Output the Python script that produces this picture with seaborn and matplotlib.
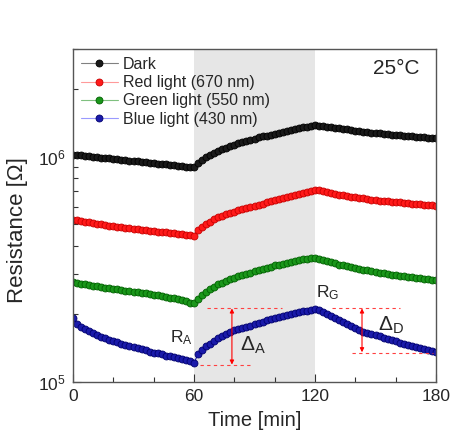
import numpy as np
import pandas as pd
import seaborn as sns
import matplotlib
matplotlib.use('Agg')
import matplotlib.pyplot as plt
from matplotlib.ticker import LogLocator, NullFormatter

# tempo (min), um ponto a cada 2 min
tempo = np.arange(0, 181, 2)

# resistencia em kOhm
escuro = [1020, 1015, 1011, 1007, 1002, 998, 994, 990, 985, 981,
          977, 973, 968, 964, 960, 956, 951, 947, 943, 939,
          935, 931, 927, 923, 919, 914, 910, 906, 902, 899,
          901,
          940, 970, 1000, 1020, 1040, 1058, 1076, 1094, 1111, 1128,
          1144, 1159, 1173, 1187, 1201, 1215, 1228, 1240, 1252, 1264,
          1276, 1288, 1300, 1312, 1324, 1336, 1347, 1358, 1367, 1375,
          1372, 1366, 1359, 1351, 1343, 1335, 1327, 1319, 1311, 1304,
          1297, 1290, 1284, 1278, 1272, 1266, 1261, 1256, 1251, 1247,
          1242, 1238, 1233, 1229, 1225, 1221, 1217, 1213, 1209, 1206]

vermelho = [525, 521, 517, 513, 510, 506, 503, 500, 497, 494,
            491, 488, 486, 483, 481, 479, 476, 474, 472, 469,
            467, 465, 463, 461, 458, 456, 454, 452, 449, 447,
            446,
            474, 489, 502, 514, 526, 537, 547, 555, 563, 570,
            577, 584, 591, 597, 604, 611, 618, 626, 634, 641,
            648, 656, 663, 671, 678, 685, 692, 699, 706, 712,
            708, 700, 693, 687, 682, 677, 672, 668, 664, 660,
            656, 652, 648, 644, 640, 637, 635, 632, 630, 628,
            626, 623, 621, 619, 617, 614, 612, 610, 607, 605]

verde = [277, 275, 273, 271, 269, 267.5, 266, 264, 262.5, 261,
         259, 257.5, 256, 254.5, 253, 251.5, 250, 248.5, 247, 245.5,
         244, 242, 240.5, 239, 237, 235, 233, 230.5, 228, 225,
         224,
         234, 243, 251, 258, 265, 271, 276, 281, 286, 290,
         294, 298, 302, 306, 310, 314, 318, 322, 325, 329,
         332, 335, 338, 341, 344, 347, 350, 352, 354, 356,
         353, 348, 343, 339, 336, 332, 329, 326, 323, 320,
         317.5, 315, 312.5, 310, 307.5, 305.5, 303.5, 301.5, 299.5, 297.5,
         296, 294.5, 293, 291.5, 290, 288.5, 287, 285.5, 284, 282.5]

azul = [192, 181, 176, 172, 168, 165, 162, 159, 157, 154,
        152, 150, 148, 146, 144, 143, 141, 139.5, 138, 136.5,
        135, 134, 132.5, 131, 130, 128.5, 127.5, 126, 125, 123.5,
        121.5,
        133, 139, 144, 148, 152, 156, 160, 164, 167, 170,
        172, 174, 176, 178, 180.5, 183, 185, 187.5, 190, 192,
        194.5, 196.5, 198.5, 200.5, 202.5, 204.5, 206, 207.5, 209, 210.5,
        209, 205, 200, 196, 192, 188, 184, 180, 176.5, 173,
        170, 167.5, 165.5, 163.5, 161.5, 159.5, 157.5, 155.5, 153.5, 151.5,
        149.5, 148, 146, 144.5, 143, 141.5, 140, 138.5, 137.5, 136.5]

rotulos = ['Dark', 'Red light (670 nm)', 'Green light (550 nm)', 'Blue light (430 nm)']
series = [escuro, vermelho, verde, azul]
cores = ['#1a1a1a', '#ff1a1a', '#1a961a', '#1a1aaa']
bordas = ['#000000', '#c80000', '#006000', '#00006e']
cores_claras = ['#808080', '#ff9a9a', '#7fc07f', '#9a9aff']

sns.set_theme(style='ticks')
plt.rcParams['font.family'] = ['Liberation Sans', 'DejaVu Sans']
plt.rcParams['mathtext.default'] = 'regular'

fig = plt.figure(figsize=(4.54, 4.34), dpi=100)
ax = fig.add_axes([0.1608, 0.1198, 0.7996, 0.7673])

# faixa iluminada
ax.axvspan(60, 120, color='#e6e6e6', zorder=0, lw=0)

for vals, cor, borda, rot in zip(series, cores, bordas, rotulos):
    df = pd.DataFrame({'tempo': tempo, 'R': np.array(vals) * 1e3})
    sns.lineplot(data=df, x='tempo', y='R', ax=ax, color=cor, marker='o',
                 markersize=5, markeredgecolor=borda, markeredgewidth=0.6,
                 linewidth=0.8, label=rot)

ax.set_yscale('log')
ax.set_xlim(0, 180)
ax.set_ylim(1e5, 3e6)
ax.set_xticks([0, 60, 120, 180])
ax.set_xticks([20, 40, 80, 100, 140, 160], minor=True)
ax.yaxis.set_major_locator(LogLocator(base=10))
ax.yaxis.set_minor_locator(LogLocator(base=10, subs=np.arange(2, 10)))
ax.yaxis.set_minor_formatter(NullFormatter())
ax.tick_params(which='both', direction='in', top=False, right=False,
               labelsize=12.5, color='#333333', pad=5)
ax.tick_params(which='major', length=6, width=0.8)
ax.tick_params(which='minor', length=3.5, width=0.8)
for s in ax.spines.values():
    s.set_color('#555555')
    s.set_linewidth(1.0)

ax.set_xlabel('Time [min]', fontsize=14.5, labelpad=5)
ax.set_ylabel('Resistance [\u03a9]', fontsize=16)
ax.yaxis.set_label_coords(-0.125, 0.455)

# legenda
leg = ax.legend(loc='upper left', frameon=False, fontsize=11.5,
                handlelength=2.3, handletextpad=0.3, labelspacing=0.2,
                borderaxespad=0.1, bbox_to_anchor=(0.0, 1.0))
for h, cc, cor, borda in zip(leg.legend_handles, cores_claras, cores, bordas):
    h.set_color(cc)
    h.set_markerfacecolor(cor)
    h.set_markeredgecolor(borda)

ax.text(0.955, 0.94, '25\u00b0C', transform=ax.transAxes, ha='right', va='center',
        fontsize=15)

# anotacoes
vermelho_guia = '#ff4040'
ax.plot([66.4, 103.6], [2.13e5, 2.13e5], ls='--', color=vermelho_guia, lw=0.8, dashes=(3, 3))
ax.plot([63.0, 87.8], [1.19e5, 1.19e5], ls='--', color=vermelho_guia, lw=0.8, dashes=(3, 3))
ax.plot([128.4, 162.0], [2.13e5, 2.13e5], ls='--', color=vermelho_guia, lw=0.8, dashes=(3, 3))
ax.plot([138.3, 178.5], [1.35e5, 1.35e5], ls='--', color=vermelho_guia, lw=0.8, dashes=(3, 3))
seta = dict(arrowstyle='<|-|>', color='red', lw=0.8, mutation_scale=6,
            shrinkA=0, shrinkB=0)
ax.annotate('', xy=(78.8, 2.12e5), xytext=(78.8, 1.195e5), arrowprops=seta)
ax.annotate('', xy=(143.3, 2.12e5), xytext=(143.3, 1.355e5), arrowprops=seta)

ax.text(53.5, 1.57e5, r'R$_{A}$', fontsize=12.5, ha='center', va='center')
ax.text(126, 2.5e5, r'R$_{G}$', fontsize=12.5, ha='center', va='center')
ax.text(83, 1.46e5, r'$\Delta_{A}$', fontsize=15, ha='left', va='center')
ax.text(151, 1.79e5, r'$\Delta_{D}$', fontsize=15, ha='left', va='center')

plt.savefig('out.png', dpi=100)
